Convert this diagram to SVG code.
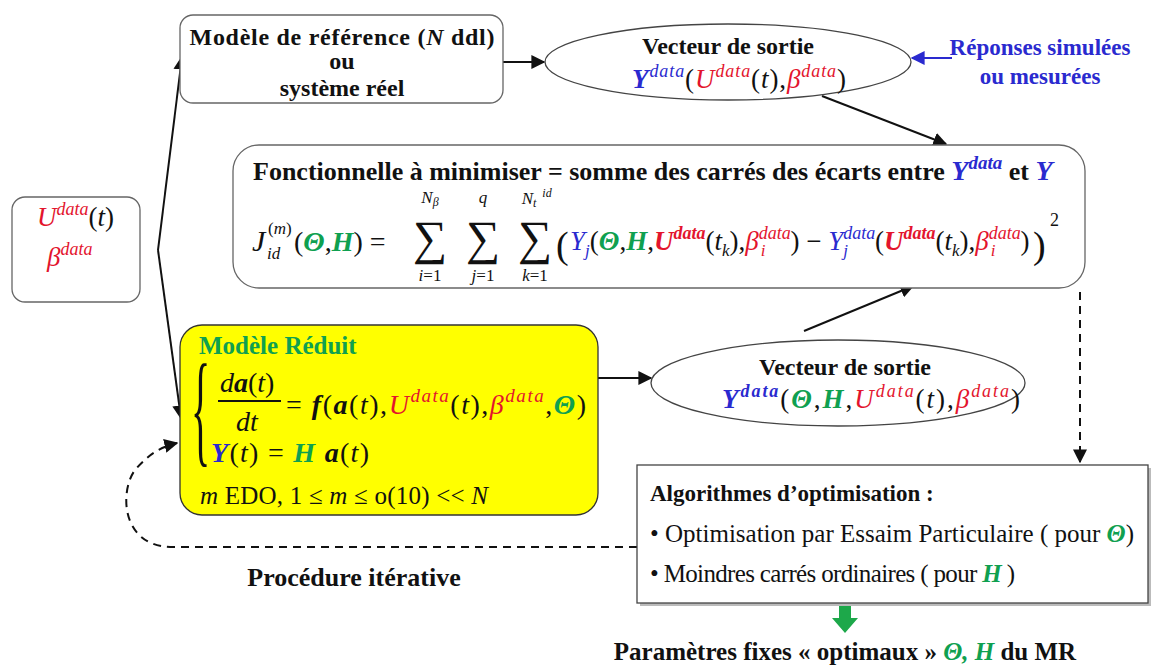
<svg xmlns="http://www.w3.org/2000/svg" width="1164" height="666" viewBox="0 0 1164 666">
<defs>
<style>
.lbl{font-family:"Liberation Serif","Times New Roman",serif;font-weight:bold;fill:#111;}
.reg{font-family:"Liberation Serif","Times New Roman",serif;fill:#111;}
.m{font-family:"Liberation Serif","Times New Roman",serif;font-style:italic;fill:#111;}
.u{font-style:normal;}
.r{fill:#E3142D;}
.b{fill:#2A2ACF;}
.g{fill:#0FA050;}
.bd{font-weight:bold;}
.nb{font-weight:normal;}
.box{fill:#fff;stroke:#666;stroke-width:1.3;}
.edge{stroke:#111;stroke-width:2;fill:none;}
.dash{stroke:#111;stroke-width:2;fill:none;stroke-dasharray:8 6;}
</style>
<marker id="ahs" viewBox="0 0 10 10" refX="9" refY="5" markerWidth="14" markerHeight="14" orient="auto" markerUnits="userSpaceOnUse">
<path d="M0,0 L10,5 L0,10 z" fill="#111"/>
</marker>
<marker id="ahb" viewBox="0 0 10 10" refX="9" refY="5" markerWidth="14" markerHeight="14" orient="auto" markerUnits="userSpaceOnUse">
<path d="M0,0 L10,5 L0,10 z" fill="#2A2ACF"/>
</marker>
</defs>
<rect width="1164" height="666" fill="#fff"/>

<g id="connectors">
<line class="edge" x1="503" y1="62" x2="544" y2="62" marker-end="url(#ahs)"/>
<line x1="952" y1="58" x2="912" y2="58" stroke="#2A2ACF" stroke-width="2" marker-end="url(#ahb)"/>
<line class="edge" x1="822" y1="96" x2="946" y2="144" marker-end="url(#ahs)"/>
<line class="edge" x1="158" y1="250" x2="182" y2="57" marker-end="url(#ahs)"/>
<line class="edge" x1="158" y1="250" x2="181" y2="418" marker-end="url(#ahs)"/>
<line class="edge" x1="598" y1="378" x2="651" y2="378" marker-end="url(#ahs)"/>
<line class="edge" x1="804" y1="331" x2="913" y2="286" marker-end="url(#ahs)"/>
<line class="dash" x1="1080" y1="292" x2="1080" y2="462" marker-end="url(#ahs)"/>
<path class="dash" d="M637,547 L170,547 C120,545 120,490 135,470 C148,455 160,447 177,443" marker-end="url(#ahs)"/>
<path d="M839,604 L851,604 L851,618 L858,618 L845,633 L832,618 L839,618 z" fill="#1DA84A"/>
</g>

<g id="ref-model">
<rect class="box" x="180" y="15" width="323" height="88" rx="13"/>
<text class="lbl" font-size="24" x="342" y="45" text-anchor="middle" textLength="305">Modèle de référence (<tspan font-style="italic">N</tspan> ddl)</text>
<text class="lbl" font-size="24" x="342" y="69" text-anchor="middle">ou</text>
<text class="lbl" font-size="24" x="342" y="96" text-anchor="middle">système réel</text>
</g>

<g id="output-data">
<ellipse cx="728" cy="62" rx="183" ry="38" fill="#fff" stroke="#444" stroke-width="1.3"/>
<text class="lbl" font-size="24" x="728" y="54" text-anchor="middle">Vecteur de sortie</text>
<text class="m" font-size="27" x="632" y="88" textLength="214"><tspan class="b bd">Y</tspan><tspan class="b" font-size="18" dy="-11">data</tspan><tspan class="u" dy="11">(</tspan><tspan class="r">U</tspan><tspan class="r" font-size="18" dy="-11">data</tspan><tspan class="u" dy="11">(</tspan>t<tspan class="u">),</tspan><tspan class="r">β</tspan><tspan class="r" font-size="18" dy="-11">data</tspan><tspan class="u" dy="11">)</tspan></text>
</g>

<g id="responses">
<text class="lbl b" font-size="23" x="1040" y="55" text-anchor="middle">Réponses simulées</text>
<text class="lbl b" font-size="23" x="1040" y="84" text-anchor="middle">ou mesurées</text>
</g>

<g id="inputs">
<rect class="box" x="12" y="197" width="128" height="105" rx="13"/>
<text class="m" font-size="27" x="37" y="226"><tspan class="r">U</tspan><tspan class="r" font-size="18" dy="-11">data</tspan><tspan class="u" dy="11">(</tspan>t<tspan class="u">)</tspan></text>
<text class="m r" font-size="27" x="47" y="266">β<tspan font-size="18" dy="-11">data</tspan></text>
</g>

<g id="functional">
<rect class="box" x="233" y="145" width="852" height="143" rx="26"/>
<text class="lbl" font-size="26" x="253" y="180">Fonctionnelle à minimiser = somme des carrés des écarts entre <tspan class="m b bd" font-size="28">Y</tspan><tspan class="m b bd" font-size="19" dy="-11">data</tspan><tspan dy="11"> et </tspan><tspan class="m b bd" font-size="28">Y</tspan></text>
<text class="m" font-size="30" x="252" y="251">J</text>
<text class="m" font-size="17" x="268" y="234"><tspan class="u">(</tspan>m<tspan class="u">)</tspan></text>
<text class="m" font-size="17" x="267" y="259">id</text>
<text class="m" font-size="28" x="294" y="251"><tspan class="u">(</tspan><tspan class="g bd">Θ</tspan><tspan class="u">,</tspan><tspan class="g bd">H</tspan><tspan class="u">) =</tspan></text>
<text class="reg" font-size="48" x="430" y="254" text-anchor="middle">∑</text>
<text class="reg" font-size="48" x="483" y="254" text-anchor="middle">∑</text>
<text class="reg" font-size="48" x="535" y="254" text-anchor="middle">∑</text>
<text class="m" font-size="17" x="430" y="203" text-anchor="middle">N<tspan font-size="12" dy="3">β</tspan></text>
<text class="m" font-size="17" x="483" y="203" text-anchor="middle">q</text>
<text class="m" font-size="17" x="529" y="204" text-anchor="middle">N<tspan font-size="12" dy="3">t</tspan></text>
<text class="m" font-size="12" x="547" y="197" text-anchor="middle">id</text>
<text class="m" font-size="17" x="430" y="281" text-anchor="middle">i<tspan class="u">=1</tspan></text>
<text class="m" font-size="17" x="483" y="281" text-anchor="middle">j<tspan class="u">=1</tspan></text>
<text class="m" font-size="17" x="535" y="281" text-anchor="middle">k<tspan class="u">=1</tspan></text>
<text class="reg" font-size="38" x="556" y="258">(</text>
<text class="m" font-size="27" x="570" y="250"><tspan class="b">Y</tspan><tspan class="b" font-size="17" dy="6">j</tspan><tspan class="u" dy="-6">(</tspan><tspan class="g bd">Θ</tspan><tspan class="u">,</tspan><tspan class="g bd">H</tspan><tspan class="u">,</tspan><tspan class="r bd">U</tspan><tspan class="r bd" font-size="18" dy="-11">data</tspan><tspan class="u" dy="11">(</tspan>t<tspan font-size="17" dy="6">k</tspan><tspan class="u" dy="-6">),</tspan><tspan class="r">β</tspan><tspan class="r" font-size="18" dy="-11">data</tspan><tspan class="r" font-size="17" dx="-30" dy="17">i</tspan><tspan class="u" dx="25" dy="-6">)</tspan><tspan class="u"> − </tspan><tspan class="b">Y</tspan><tspan class="b" font-size="18" dy="-11">data</tspan><tspan class="b" font-size="17" dx="-32" dy="17">j</tspan><tspan class="u" dx="27" dy="-6">(</tspan><tspan class="r bd">U</tspan><tspan class="r bd" font-size="18" dy="-11">data</tspan><tspan class="u" dy="11">(</tspan>t<tspan font-size="17" dy="6">k</tspan><tspan class="u" dy="-6">),</tspan><tspan class="r">β</tspan><tspan class="r" font-size="18" dy="-11">data</tspan><tspan class="r" font-size="17" dx="-30" dy="17">i</tspan><tspan class="u" dx="25" dy="-6">)</tspan></text>
<text class="reg" font-size="38" x="1033" y="258">)</text>
<text class="reg" font-size="18" x="1050" y="226">2</text>
</g>

<g id="reduced-model">
<rect x="180" y="325" width="418" height="190" rx="22" fill="#FFFF00" stroke="#333" stroke-width="1.3"/>
<text class="lbl g" font-size="25" x="199" y="354">Modèle Réduit</text>
<text class="reg" font-size="40" transform="translate(191,450) scale(1,3.1)">{</text>
<text class="m" font-size="28" x="220" y="392">d<tspan class="bd">a</tspan><tspan class="u">(</tspan>t<tspan class="u">)</tspan></text>
<line x1="218" y1="401" x2="281" y2="401" stroke="#111" stroke-width="2"/>
<text class="m" font-size="28" x="236" y="431">dt</text>
<text class="m bd" font-size="28" x="286" y="414" textLength="300"><tspan class="u nb">= </tspan>f<tspan class="u nb">(</tspan>a<tspan class="u nb">(</tspan><tspan class="nb">t</tspan><tspan class="u nb">),</tspan><tspan class="r nb">U</tspan><tspan class="r nb" font-size="19" dy="-12">data</tspan><tspan class="u nb" dy="12">(</tspan><tspan class="nb">t</tspan><tspan class="u nb">),</tspan><tspan class="r nb">β</tspan><tspan class="r nb" font-size="19" dy="-12">data</tspan><tspan class="u nb" dy="12">,</tspan><tspan class="g">Θ</tspan><tspan class="u nb">)</tspan></text>
<text class="m bd" font-size="28" x="211" y="462" textLength="158"><tspan class="b">Y</tspan><tspan class="u nb">(</tspan><tspan class="nb">t</tspan><tspan class="u nb">) = </tspan><tspan class="g">H</tspan> a<tspan class="u nb">(</tspan><tspan class="nb">t</tspan><tspan class="u nb">)</tspan></text>
<text class="reg" font-size="25" x="200" y="504" textLength="288"><tspan font-style="italic">m</tspan> EDO, 1 ≤ <tspan font-style="italic">m</tspan> ≤ o(10) &lt;&lt; <tspan font-style="italic">N</tspan></text>
</g>

<g id="output-model">
<ellipse cx="838" cy="383" rx="187" ry="43" fill="#fff" stroke="#444" stroke-width="1.3"/>
<text class="lbl" font-size="24" x="845" y="375" text-anchor="middle">Vecteur de sortie</text>
<text class="m" font-size="27" x="722" y="408" textLength="298"><tspan class="b bd">Y</tspan><tspan class="b bd" font-size="18" dy="-11">data</tspan><tspan class="u" dy="11">(</tspan><tspan class="g bd">Θ</tspan><tspan class="u">,</tspan><tspan class="g bd">H</tspan><tspan class="u">,</tspan><tspan class="r">U</tspan><tspan class="r" font-size="18" dy="-11">data</tspan><tspan class="u" dy="11">(</tspan>t<tspan class="u">),</tspan><tspan class="r">β</tspan><tspan class="r" font-size="18" dy="-11">data</tspan><tspan class="u" dy="11">)</tspan></text>
</g>

<g id="optimisation">
<rect x="640" y="468" width="511" height="138" fill="#bbb"/>
<rect x="637" y="465" width="511" height="138" fill="#fff" stroke="#444" stroke-width="1.3"/>
<text class="lbl" font-size="23" x="650" y="501">Algorithmes d’optimisation :</text>
<text class="reg" font-size="25" x="650" y="542">• Optimisation par Essaim Particulaire  ( pour <tspan class="m g bd">Θ</tspan>)</text>
<text class="reg" font-size="25" x="650" y="582" textLength="365">• Moindres carrés ordinaires ( pour <tspan class="m g bd">H</tspan> )</text>
</g>

<g id="iterative">
<text class="lbl" font-size="26" x="354" y="586" text-anchor="middle">Procédure itérative</text>
</g>

<g id="result">
<text class="lbl" font-size="25" x="845" y="660" text-anchor="middle">Paramètres fixes « optimaux » <tspan class="m g">Θ, H</tspan> du MR</text>
</g>
</svg>
